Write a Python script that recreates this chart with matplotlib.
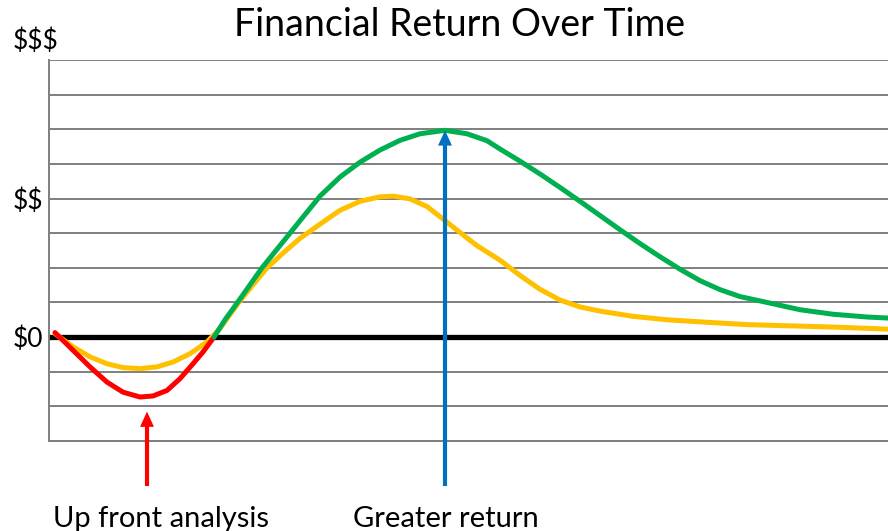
import numpy as np
import matplotlib.pyplot as plt

# horizontal position: 0..839 across the plot, vertical: grid levels ($0 = 0)
t_red = [6, 24, 41, 58, 74, 91, 104, 118, 131, 144, 154, 165]
v_red = [0.13, -0.38, -0.86, -1.30, -1.59, -1.73, -1.70, -1.54, -1.20, -0.77, -0.43, 0.0]

t_green = [165, 176, 191, 213, 241, 251, 271, 291, 311, 331, 351, 371, 396, 418, 438,
           451, 471, 491, 511, 531, 551, 571, 591, 611, 631, 651, 671, 691, 718, 751,
           784, 818, 839]
v_green = [0.0, 0.5, 1.1, 2.0, 3.0, 3.36, 4.07, 4.62, 5.05, 5.40, 5.68, 5.87, 5.97, 5.87, 5.67,
           5.43, 5.08, 4.71, 4.32, 3.92, 3.51, 3.10, 2.70, 2.32, 1.96, 1.63, 1.37, 1.17, 1.0, 0.79,
           0.66, 0.58, 0.55]

t_yellow = [6, 24, 41, 58, 74, 91, 108, 124, 141, 158, 171, 191, 218, 235, 251, 271,
            291, 311, 331, 344, 361, 378, 394, 411, 428, 451, 471, 491, 511, 531, 551,
            584, 618, 651, 698, 784, 839]
v_yellow = [0.1, -0.28, -0.57, -0.77, -0.88, -0.91, -0.86, -0.72, -0.48, -0.14, 0.25, 1.05,
            2.0, 2.45, 2.85, 3.26, 3.66, 3.92, 4.05, 4.07, 3.99, 3.77, 3.41, 3.02, 2.64, 2.22,
            1.78, 1.38, 1.07, 0.87, 0.75, 0.60, 0.50, 0.44, 0.36, 0.29, 0.23]

grid_levels = list(range(-3, 9))
tick_text = {0: r'\$0', 4: r'\$\$'}

# arrows: x position, tip level, tail level
arrow_red = (98, -2.15, -4.3)
arrow_blue = (396, 5.97, -4.3)

plt.rcParams['font.family'] = ['Lato', 'DejaVu Sans']

fig = plt.figure(figsize=(8.88, 5.31), dpi=100)
ax = fig.add_axes([49/888, 1 - 441/531, 1 - 49/888, (441 - 60)/531])

ax.set_xlim(0, 839)
ax.set_ylim(-3, 8)

ax.set_yticks(grid_levels)
ax.set_yticklabels([tick_text.get(v, '') for v in grid_levels], fontsize=19)
ax.tick_params(axis='y', length=0, pad=4)
ax.set_xticks([])
ax.grid(axis='y', color='#7f7f7f', lw=1.4, zorder=1)
ax.set_axisbelow(True)

for s in ['top', 'right']:
    ax.spines[s].set_visible(False)
ax.spines['left'].set_color('#7f7f7f')
ax.spines['left'].set_linewidth(1.4)
ax.spines['bottom'].set_color('#7f7f7f')
ax.spines['bottom'].set_linewidth(1.4)

ax.axhline(0, color='black', lw=3.8, zorder=2)

line_kw = dict(lw=3.6, solid_capstyle='round', solid_joinstyle='round')
ax.plot(t_yellow, v_yellow, color='#FFC000', zorder=3, **line_kw)
ax.plot(t_red, v_red, color='#FF0000', zorder=4, **line_kw)
ax.plot(t_green, v_green, color='#00B050', zorder=4, **line_kw)

for (x, tip, tail), c in [(arrow_red, '#FF0000'), (arrow_blue, '#0070C0')]:
    ax.annotate('', xy=(x, tip), xytext=(x, tail), annotation_clip=False,
                arrowprops=dict(facecolor=c, edgecolor='none', width=3,
                                headwidth=10, headlength=11, shrink=0),
                zorder=5)

ax.text(9, 8.55, r'\$\$\$', ha='right', va='center', fontsize=19, clip_on=False)
ax.text(arrow_red[0] + 14, -5.25, 'Up front analysis', ha='center', va='center',
        fontsize=21, clip_on=False)
ax.text(arrow_blue[0] + 1, -5.25, 'Greater return', ha='center', va='center',
        fontsize=21, clip_on=False)

fig.text(0.5175, 1 - 25/531, 'Financial Return Over Time', ha='center',
         va='center', fontsize=27)

fig.savefig('out.png', dpi=100)
